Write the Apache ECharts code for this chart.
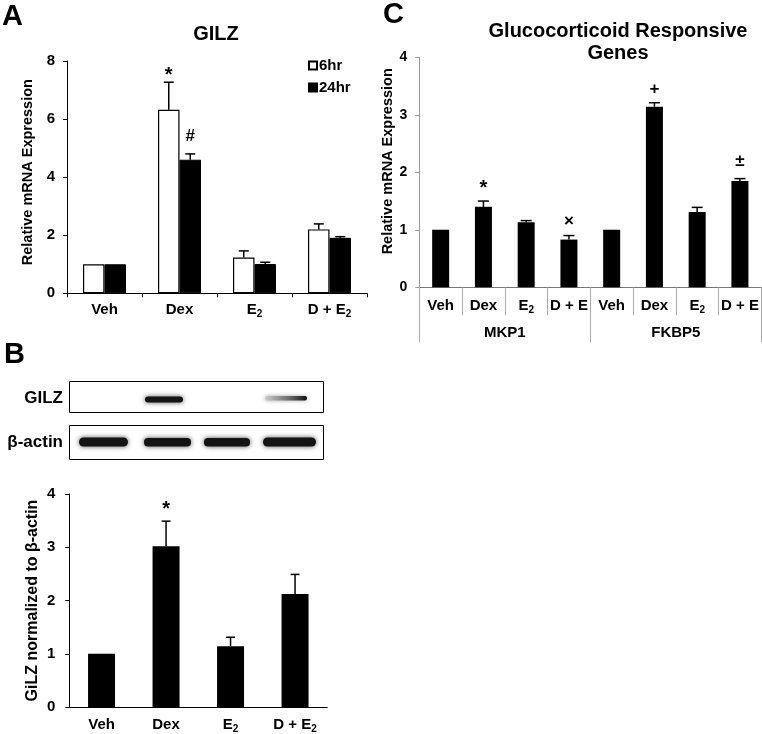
<!DOCTYPE html>
<html>
<head>
<meta charset="utf-8">
<script src="https://cdn.jsdelivr.net/npm/echarts@6/dist/echarts.min.js"></script>
<style>html,body{margin:0;padding:0;background:#fff}#c{width:762px;height:734px}</style>
</head>
<body>
<div id="c"></div>
<script>
// ---------- DATA ----------
const catsA = ['Veh', 'Dex', 'E2', 'D + E2'];
const gilz6hr = [1.0, 6.32, 1.23, 2.2];
const gilz6hrErr = [0, 0.95, 0.23, 0.19];
const gilz24hr = [1.0, 4.6, 1.01, 1.91];
const gilz24hrErr = [0, 0.2, 0.06, 0.04];
const marks6hr = ['', '*', '', ''];
const marks24hr = ['', '#', '', ''];

const catsC = ['Veh', 'Dex', 'E2', 'D + E', 'Veh', 'Dex', 'E2', 'D + E'];
const groupsC = ['MKP1', 'FKBP5'];
const geneVals = [1.0, 1.4, 1.13, 0.83, 1.0, 3.14, 1.31, 1.85];
const geneErr = [0, 0.1, 0.03, 0.07, 0, 0.07, 0.08, 0.04];
const geneMarks = ['', '*', '', '×', '', '+', '', '±'];

const catsB = ['Veh', 'Dex', 'E2', 'D + E2'];
const blotVals = [1.0, 3.02, 1.14, 2.12];
const blotErr = [0, 0.47, 0.17, 0.37];
const blotMarks = ['', '*', '', ''];

const legendA = ['6hr', '24hr'];

// ---------- STYLE ----------
const FF = '"Liberation Sans", Arial, "DejaVu Sans", sans-serif';
const markLift = {'*': 7, '#': 18};
const markLiftB = {'*': 12};
const markLiftC = {'*': 13, '×': 14, '+': 13, '±': 17};

function catLabel(v) {
  if (v.endsWith('E2')) return '{n|' + v.slice(0, -1) + '}{s|2}';
  return '{n|' + v + '}';
}
const richLab = {
  n: {fontFamily: FF, fontWeight: 'bold', fontSize: 15, color: '#000', lineHeight: 19},
  s: {fontFamily: FF, fontWeight: 'bold', fontSize: 10, color: '#000', lineHeight: 10, verticalAlign: 'bottom'}
};

function errRender(vals, errs, marks, offsetX, capHalf, lifts) {
  return function (params, api) {
    const i = params.dataIndex;
    const top = api.coord([i, vals[i]]);
    const hi = api.coord([i, vals[i] + errs[i]]);
    const x = top[0] + offsetX;
    const ch = [];
    if (errs[i] > 0) {
      ch.push({type: 'line', shape: {x1: x, y1: top[1], x2: x, y2: hi[1]}, style: {stroke: '#000', lineWidth: 1.5}});
      ch.push({type: 'line', shape: {x1: x - capHalf, y1: hi[1], x2: x + capHalf, y2: hi[1]}, style: {stroke: '#000', lineWidth: 1.5}});
    }
    if (marks[i]) {
      const big = marks[i] === '*';
      ch.push({type: 'text', style: {x: x, y: hi[1] - (lifts[marks[i]] || 12), text: marks[i], fill: '#000',
        font: 'bold ' + (big ? 20 : 17) + 'px ' + FF, textAlign: 'center', textVerticalAlign: 'middle'}});
    }
    return {type: 'group', children: ch};
  };
}

const axisBlack = {lineStyle: {color: '#000', width: 1}};
const yLabel = {fontFamily: FF, fontWeight: 'bold', fontSize: 15, color: '#000'};
const nameStyle = {fontFamily: FF, fontWeight: 'bold', fontSize: 14.5, color: '#000'};
const bandStyle = {fill: '#141414', shadowBlur: 5, shadowColor: 'rgba(0,0,0,0.7)'};

const chart = echarts.init(document.getElementById('c'), null, {renderer: 'canvas'});

const graphics = [
  {type: 'text', left: 2, top: 2, style: {text: 'A', font: 'bold 29px ' + FF, fill: '#000'}},
  {type: 'text', left: 4, top: 340, style: {text: 'B', font: 'bold 29px ' + FF, fill: '#000'}},
  {type: 'text', left: 383, top: 0, style: {text: 'C', font: 'bold 29px ' + FF, fill: '#000'}},
  {type: 'text', x: 216, y: 34, style: {text: 'GILZ', font: 'bold 20px ' + FF, fill: '#000', textAlign: 'center', textVerticalAlign: 'middle'}},
  {type: 'text', x: 618, y: 42, style: {text: 'Glucocorticoid Responsive\nGenes', font: 'bold 20px ' + FF, fill: '#000', textAlign: 'center', textVerticalAlign: 'middle', lineHeight: 22}},
  // blot panel
  {type: 'rect', shape: {x: 69.5, y: 381.5, width: 254, height: 31}, style: {fill: '#fff', stroke: '#000', lineWidth: 1}},
  {type: 'rect', shape: {x: 69.5, y: 425.5, width: 254, height: 34}, style: {fill: '#fff', stroke: '#000', lineWidth: 1}},
  {type: 'text', x: 63, y: 398, style: {text: 'GILZ', font: 'bold 17px ' + FF, fill: '#000', textAlign: 'right', textVerticalAlign: 'middle'}},
  {type: 'text', x: 63, y: 442, style: {text: 'β-actin', font: 'bold 17px ' + FF, fill: '#000', textAlign: 'right', textVerticalAlign: 'middle'}},
  {type: 'rect', shape: {x: 145, y: 396.5, width: 38, height: 6, r: 3}, style: bandStyle},
  {type: 'rect', shape: {x: 265, y: 396, width: 42, height: 4.5, r: 2}, style: {
    fill: new echarts.graphic.LinearGradient(0, 0, 1, 0, [{offset: 0, color: '#ccc'}, {offset: 0.6, color: '#666'}, {offset: 1, color: '#111'}]),
    shadowBlur: 4, shadowColor: 'rgba(0,0,0,0.35)'}},
  {type: 'rect', shape: {x: 79, y: 437.5, width: 49, height: 9, r: 4.5}, style: bandStyle},
  {type: 'rect', shape: {x: 144, y: 438, width: 47, height: 8.5, r: 4}, style: bandStyle},
  {type: 'rect', shape: {x: 204, y: 438, width: 46, height: 8.5, r: 4}, style: bandStyle},
  {type: 'rect', shape: {x: 263, y: 437.5, width: 53, height: 9, r: 4.5}, style: bandStyle}
];

const option = {
  animation: false,
  backgroundColor: '#fff',
  textStyle: {fontFamily: FF},
  graphic: graphics,
  legend: {
    data: legendA, left: 303, top: 53, orient: 'vertical', itemWidth: 8, itemHeight: 8, itemGap: 7, icon: 'rect',
    textStyle: {fontFamily: FF, fontWeight: 'bold', fontSize: 15, color: '#000', padding: [0, 0, 0, -3]}
  },
  grid: [
    {left: 67, top: 61, width: 300, height: 232.3},
    {left: 419.3, top: 57.3, width: 342, height: 230},
    {left: 69.3, top: 494, width: 258, height: 216}
  ],
  xAxis: [
    {type: 'category', gridIndex: 0, data: catsA, axisLine: axisBlack,
      axisTick: {show: true, length: 4, interval: 0, lineStyle: {color: '#000'}},
      axisLabel: {interval: 0, margin: 7, formatter: catLabel, rich: richLab}},
    {type: 'category', gridIndex: 1, data: catsC, axisLine: {lineStyle: {color: '#777'}},
      axisTick: {show: true, length: 28, interval: 0, lineStyle: {color: '#aaa'}},
      axisLabel: {interval: 0, margin: 9, formatter: catLabel, rich: richLab}},
    {type: 'category', gridIndex: 1, data: groupsC, position: 'bottom', axisLine: {show: false},
      axisTick: {show: true, length: 55, interval: 0, lineStyle: {color: '#aaa'}},
      axisLabel: {interval: 0, margin: 38, fontFamily: FF, fontWeight: 'bold', fontSize: 15, color: '#000'}},
    {type: 'category', gridIndex: 2, data: catsB, axisLine: axisBlack,
      axisTick: {show: false},
      axisLabel: {interval: 0, margin: 8, formatter: catLabel, rich: richLab}}
  ],
  yAxis: [
    {type: 'value', gridIndex: 0, min: 0, max: 8, interval: 2, splitLine: {show: false},
      axisLine: {show: true, lineStyle: {color: '#000'}}, axisTick: {show: true, length: 4, lineStyle: {color: '#000'}},
      axisLabel: Object.assign({margin: 12}, yLabel),
      name: 'Relative mRNA Expression', nameLocation: 'middle', nameGap: 32, nameTextStyle: Object.assign({padding: [0, 0, 0, 10]}, nameStyle)},
    {type: 'value', gridIndex: 1, min: 0, max: 4, interval: 1, splitLine: {show: false},
      axisLine: {show: true, lineStyle: {color: '#999'}}, axisTick: {show: true, length: 4, lineStyle: {color: '#999'}},
      axisLabel: Object.assign({margin: 12}, yLabel, {fontSize: 14}),
      name: 'Relative mRNA Expression', nameLocation: 'middle', nameGap: 24, nameTextStyle: Object.assign({padding: [0, 0, 0, 22]}, nameStyle)},
    {type: 'value', gridIndex: 2, min: 0, max: 4, interval: 1, splitLine: {show: false},
      axisLine: {show: true, lineStyle: {color: '#000'}}, axisTick: {show: true, length: 4, lineStyle: {color: '#000'}},
      axisLabel: Object.assign({margin: 14}, yLabel),
      name: 'GiLZ normalized to β-actin', nameLocation: 'middle', nameGap: 29, nameTextStyle: Object.assign({}, nameStyle, {fontSize: 16})}
  ],
  series: [
    {name: '6hr', type: 'bar', xAxisIndex: 0, yAxisIndex: 0, data: gilz6hr, barWidth: 21.5, barGap: '0%',
      itemStyle: {color: '#fff', borderColor: '#000', borderWidth: 1.2}},
    {name: '24hr', type: 'bar', xAxisIndex: 0, yAxisIndex: 0, data: gilz24hr, barWidth: 21.5, barGap: '0%',
      itemStyle: {color: '#000', borderColor: '#000', borderWidth: 1}},
    {type: 'custom', xAxisIndex: 0, yAxisIndex: 0, data: gilz6hr.map((v, i) => [i, v]),
      renderItem: errRender(gilz6hr, gilz6hrErr, marks6hr, -10.75, 5, markLift), z: 5},
    {type: 'custom', xAxisIndex: 0, yAxisIndex: 0, data: gilz24hr.map((v, i) => [i, v]),
      renderItem: errRender(gilz24hr, gilz24hrErr, marks24hr, 10.75, 5, markLift), z: 5},
    {type: 'bar', xAxisIndex: 1, yAxisIndex: 1, data: geneVals, barWidth: 17, itemStyle: {color: '#000'}},
    {type: 'custom', xAxisIndex: 1, yAxisIndex: 1, data: geneVals.map((v, i) => [i, v]),
      renderItem: errRender(geneVals, geneErr, geneMarks, 0, 5.5, markLiftC), z: 5},
    {type: 'bar', xAxisIndex: 3, yAxisIndex: 2, data: blotVals, barWidth: 27, itemStyle: {color: '#000'}},
    {type: 'custom', xAxisIndex: 3, yAxisIndex: 2, data: blotVals.map((v, i) => [i, v]),
      renderItem: errRender(blotVals, blotErr, blotMarks, 0, 4.5, markLiftB), z: 5}
  ]
};
chart.setOption(option);
</script>
</body>
</html>
